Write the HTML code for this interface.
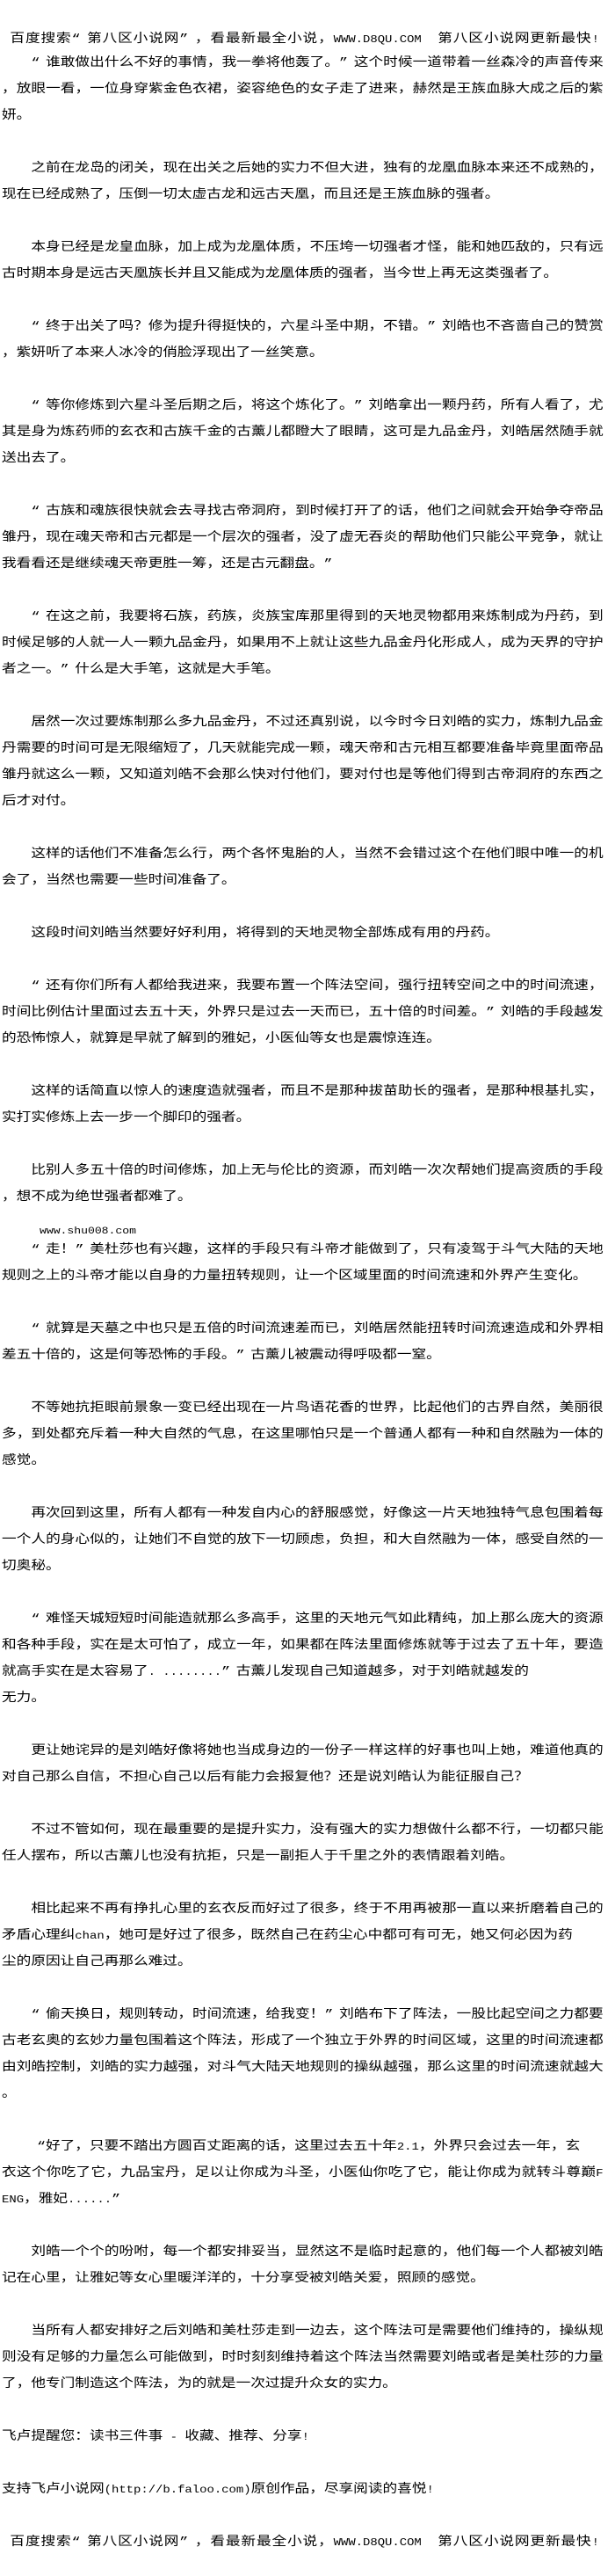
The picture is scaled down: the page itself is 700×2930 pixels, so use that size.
<!DOCTYPE html>
<html lang="zh-CN">
<head>
<meta charset="utf-8">
<style>
html,body{margin:0;padding:0;background:#fff;}
body{width:700px;height:2930px;position:relative;overflow:hidden;}
#w{position:absolute;left:0;top:0;width:588px;height:2930px;transform:scaleX(1.19);transform-origin:0 0;font-family:"Liberation Mono","Noto Sans CJK SC",monospace;font-size:14px;color:#000;text-spacing-trim:space-all;text-autospace:no-autospace;}
#rows{position:absolute;left:0;top:56.5px;width:588px;}
.r{height:30px;line-height:30px;padding-left:1.7px;white-space:nowrap;}
.i{padding-left:29.7px;}
.j{white-space:normal;width:577px;box-sizing:border-box;text-align:justify;text-align-last:justify;overflow:visible;}
.o,.c{display:inline-block;width:14px;}
.o{text-align:right;}
.c{text-align:left;}
.l{font-size:11.7px;}
.hd{position:absolute;left:0;top:29.6px;height:30px;line-height:30px;box-sizing:border-box;padding-left:9.6px;width:573px;text-align:justify;text-align-last:justify;}
.hb{padding-left:9.6px;width:573px;}
.www{position:absolute;left:37.8px;top:1394px;font-size:11px;line-height:14px;white-space:nowrap;}
</style>
</head>
<body>
<div id="w">
<div class="hd">百度搜索<span class="o">“</span>第八区小说网<span class="c">”</span>，看最新最全小说，<span class="l">WWW.D8QU.COM&nbsp;&nbsp;</span>第八区小说网更新最快<span class="l">!</span></div>
<div id="rows">
<div class="r i j"><span class="o">“</span>谁敢做出什么不好的事情，我一拳将他轰了。<span class="c">”</span>这个时候一道带着一丝森冷的声音传来</div>
<div class="r j">，放眼一看，一位身穿紫金色衣裙，姿容绝色的女子走了进来，赫然是王族血脉大成之后的紫</div>
<div class="r">妍。</div>
<div class="r"></div>
<div class="r i j">之前在龙岛的闭关，现在出关之后她的实力不但大进，独有的龙凰血脉本来还不成熟的，</div>
<div class="r">现在已经成熟了，压倒一切太虚古龙和远古天凰，而且还是王族血脉的强者。</div>
<div class="r"></div>
<div class="r i j">本身已经是龙皇血脉，加上成为龙凰体质，不压垮一切强者才怪，能和她匹敌的，只有远</div>
<div class="r">古时期本身是远古天凰族长并且又能成为龙凰体质的强者，当今世上再无这类强者了。</div>
<div class="r"></div>
<div class="r i j"><span class="o">“</span>终于出关了吗？修为提升得挺快的，六星斗圣中期，不错。<span class="c">”</span>刘皓也不吝啬自己的赞赏</div>
<div class="r">，紫妍听了本来人冰冷的俏脸浮现出了一丝笑意。</div>
<div class="r"></div>
<div class="r i j"><span class="o">“</span>等你修炼到六星斗圣后期之后，将这个炼化了。<span class="c">”</span>刘皓拿出一颗丹药，所有人看了，尤</div>
<div class="r j">其是身为炼药师的玄衣和古族千金的古薰儿都瞪大了眼睛，这可是九品金丹，刘皓居然随手就</div>
<div class="r">送出去了。</div>
<div class="r"></div>
<div class="r i j"><span class="o">“</span>古族和魂族很快就会去寻找古帝洞府，到时候打开了的话，他们之间就会开始争夺帝品</div>
<div class="r j">雏丹，现在魂天帝和古元都是一个层次的强者，没了虚无吞炎的帮助他们只能公平竞争，就让</div>
<div class="r">我看看还是继续魂天帝更胜一筹，还是古元翻盘。<span class="c">”</span></div>
<div class="r"></div>
<div class="r i j"><span class="o">“</span>在这之前，我要将石族，药族，炎族宝库那里得到的天地灵物都用来炼制成为丹药，到</div>
<div class="r j">时候足够的人就一人一颗九品金丹，如果用不上就让这些九品金丹化形成人，成为天界的守护</div>
<div class="r">者之一。<span class="c">”</span>什么是大手笔，这就是大手笔。</div>
<div class="r"></div>
<div class="r i j">居然一次过要炼制那么多九品金丹，不过还真别说，以今时今日刘皓的实力，炼制九品金</div>
<div class="r j">丹需要的时间可是无限缩短了，几天就能完成一颗，魂天帝和古元相互都要准备毕竟里面帝品</div>
<div class="r j">雏丹就这么一颗，又知道刘皓不会那么快对付他们，要对付也是等他们得到古帝洞府的东西之</div>
<div class="r">后才对付。</div>
<div class="r"></div>
<div class="r i j">这样的话他们不准备怎么行，两个各怀鬼胎的人，当然不会错过这个在他们眼中唯一的机</div>
<div class="r">会了，当然也需要一些时间准备了。</div>
<div class="r"></div>
<div class="r i">这段时间刘皓当然要好好利用，将得到的天地灵物全部炼成有用的丹药。</div>
<div class="r"></div>
<div class="r i j"><span class="o">“</span>还有你们所有人都给我进来，我要布置一个阵法空间，强行扭转空间之中的时间流速，</div>
<div class="r j">时间比例估计里面过去五十天，外界只是过去一天而已，五十倍的时间差。<span class="c">”</span>刘皓的手段越发</div>
<div class="r">的恐怖惊人，就算是早就了解到的雅妃，小医仙等女也是震惊连连。</div>
<div class="r"></div>
<div class="r i j">这样的话简直以惊人的速度造就强者，而且不是那种拔苗助长的强者，是那种根基扎实，</div>
<div class="r">实打实修炼上去一步一个脚印的强者。</div>
<div class="r"></div>
<div class="r i j">比别人多五十倍的时间修炼，加上无与伦比的资源，而刘皓一次次帮她们提高资质的手段</div>
<div class="r">，想不成为绝世强者都难了。</div>
<div class="r"></div>
<div class="r i j"><span class="o">“</span>走！<span class="c">”</span>美杜莎也有兴趣，这样的手段只有斗帝才能做到了，只有凌驾于斗气大陆的天地</div>
<div class="r">规则之上的斗帝才能以自身的力量扭转规则，让一个区域里面的时间流速和外界产生变化。</div>
<div class="r"></div>
<div class="r i j"><span class="o">“</span>就算是天墓之中也只是五倍的时间流速差而已，刘皓居然能扭转时间流速造成和外界相</div>
<div class="r">差五十倍的，这是何等恐怖的手段。<span class="c">”</span>古薰儿被震动得呼吸都一窒。</div>
<div class="r"></div>
<div class="r i j">不等她抗拒眼前景象一变已经出现在一片鸟语花香的世界，比起他们的古界自然，美丽很</div>
<div class="r j">多，到处都充斥着一种大自然的气息，在这里哪怕只是一个普通人都有一种和自然融为一体的</div>
<div class="r">感觉。</div>
<div class="r"></div>
<div class="r i j">再次回到这里，所有人都有一种发自内心的舒服感觉，好像这一片天地独特气息包围着每</div>
<div class="r j">一个人的身心似的，让她们不自觉的放下一切顾虑，负担，和大自然融为一体，感受自然的一</div>
<div class="r">切奥秘。</div>
<div class="r"></div>
<div class="r i j"><span class="o">“</span>难怪天城短短时间能造就那么多高手，这里的天地元气如此精纯，加上那么庞大的资源</div>
<div class="r j">和各种手段，实在是太可怕了，成立一年，如果都在阵法里面修炼就等于过去了五十年，要造</div>
<div class="r">就高手实在是太容易了<span class="l">.&nbsp;........</span><span class="c">”</span>古薰儿发现自己知道越多，对于刘皓就越发的</div>
<div class="r">无力。</div>
<div class="r"></div>
<div class="r i j">更让她诧异的是刘皓好像将她也当成身边的一份子一样这样的好事也叫上她，难道他真的</div>
<div class="r">对自己那么自信，不担心自己以后有能力会报复他？还是说刘皓认为能征服自己？</div>
<div class="r"></div>
<div class="r i j">不过不管如何，现在最重要的是提升实力，没有强大的实力想做什么都不行，一切都只能</div>
<div class="r">任人摆布，所以古薰儿也没有抗拒，只是一副拒人于千里之外的表情跟着刘皓。</div>
<div class="r"></div>
<div class="r i j">相比起来不再有挣扎心里的玄衣反而好过了很多，终于不用再被那一直以来折磨着自己的</div>
<div class="r">矛盾心理纠<span class="l">chan</span>，她可是好过了很多，既然自己在药尘心中都可有可无，她又何必因为药</div>
<div class="r">尘的原因让自己再那么难过。</div>
<div class="r"></div>
<div class="r i j"><span class="o">“</span>偷天换日，规则转动，时间流速，给我变！<span class="c">”</span>刘皓布下了阵法，一股比起空间之力都要</div>
<div class="r j">古老玄奥的玄妙力量包围着这个阵法，形成了一个独立于外界的时间区域，这里的时间流速都</div>
<div class="r j">由刘皓控制，刘皓的实力越强，对斗气大陆天地规则的操纵越强，那么这里的时间流速就越大</div>
<div class="r">。</div>
<div class="r"></div>
<div class="r i"><span class="o">“</span>好了，只要不踏出方圆百丈距离的话，这里过去五十年<span class="l">2.1</span>，外界只会过去一年，玄</div>
<div class="r j">衣这个你吃了它，九品宝丹，足以让你成为斗圣，小医仙你吃了它，能让你成为就转斗尊巅<span class="l">F</span></div>
<div class="r"><span class="l">ENG</span>，雅妃<span class="l">......</span><span class="c">”</span></div>
<div class="r"></div>
<div class="r i j">刘皓一个个的吩咐，每一个都安排妥当，显然这不是临时起意的，他们每一个人都被刘皓</div>
<div class="r">记在心里，让雅妃等女心里暖洋洋的，十分享受被刘皓关爱，照顾的感觉。</div>
<div class="r"></div>
<div class="r i j">当所有人都安排好之后刘皓和美杜莎走到一边去，这个阵法可是需要他们维持的，操纵规</div>
<div class="r j">则没有足够的力量怎么可能做到，时时刻刻维持着这个阵法当然需要刘皓或者是美杜莎的力量</div>
<div class="r">了，他专门制造这个阵法，为的就是一次过提升众女的实力。</div>
<div class="r"></div>
<div class="r">飞卢提醒您：读书三件事<span class="l">&nbsp;-&nbsp;</span>收藏、推荐、分享<span class="l">!</span></div>
<div class="r"></div>
<div class="r">支持飞卢小说网<span class="l">(http://b.faloo.com)</span>原创作品，尽享阅读的喜悦<span class="l">!</span></div>
<div class="r"></div>
<div class="r j hb">百度搜索<span class="o">“</span>第八区小说网<span class="c">”</span>，看最新最全小说，<span class="l">WWW.D8QU.COM&nbsp;&nbsp;</span>第八区小说网更新最快<span class="l">!</span></div>
</div>
<div class="www">www.shu008.com</div>
</div>
</body>
</html>
